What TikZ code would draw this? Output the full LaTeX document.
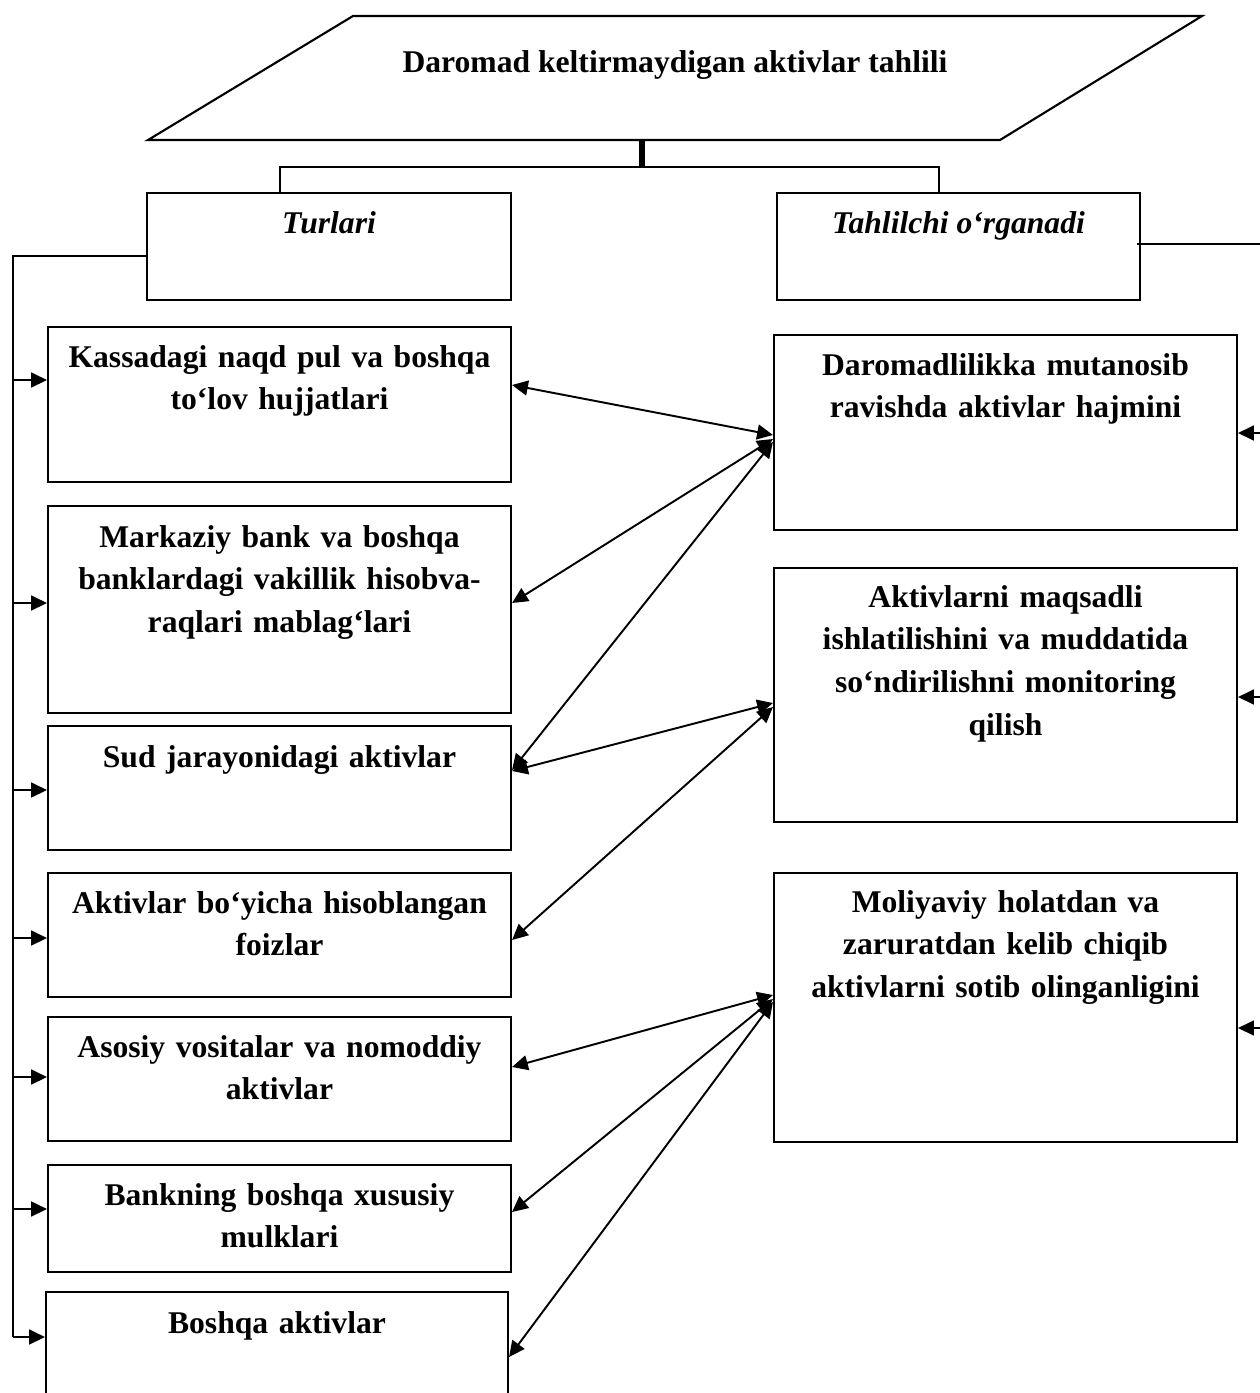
\documentclass[tikz,border=0pt]{standalone}
\usepackage{fontspec}
\setmainfont{Liberation Serif}
\usetikzlibrary{arrows.meta,fit}
% rectangle node spanning two corners: name, x1, y1, x2, y2
\newcommand\rectnode[5]{\node[box, fit={(#2,#3) (#4,#5)}] (#1) {};}
\tikzset{
  box/.style={draw, line width=1.2pt, inner sep=0pt},
  conn/.style={line width=1.1pt},
  txt/.style={font=\bfseries\fontsize{18}{24.4}\selectfont, align=center,
              inner sep=0pt, text width=8.8cm, anchor=base},
  head/.style={font=\bfseries\itshape\fontsize{18}{22}\selectfont, inner sep=0pt, anchor=base},
}
\begin{document}
\begin{tikzpicture}[x=0.02cm, y=-0.02cm, >={Triangle[length=9pt,width=8.5pt]}]
\useasboundingbox (0,0) rectangle (1259,1393);

% title parallelogram
\draw[line width=1.2pt] (148,140) -- (353,16) -- (1202,16) -- (1000,140) -- cycle;
\node[font=\bfseries\fontsize{18}{22}\selectfont, inner sep=0pt, anchor=base]
  (title) at (675,72) {Daromad keltirmaydigan aktivlar tahlili};
\coordinate (tbot) at (642,140);
\coordinate (split) at (642,167);

% boxes
\rectnode{tur}{147}{193}{511}{300}
\rectnode{tah}{777}{193}{1140}{300}
\rectnode{k1}{48}{327}{511}{482}
\rectnode{k2}{48}{506}{511}{713}
\rectnode{k3}{48}{726}{511}{850}
\rectnode{k4}{48}{873}{511}{997}
\rectnode{k5}{48}{1017}{511}{1141}
\rectnode{k6}{48}{1165}{511}{1272}
\rectnode{k7}{46}{1292}{508}{1420}
\rectnode{r1}{774}{335}{1237}{530}
\rectnode{r2}{774}{568}{1237}{822}
\rectnode{r3}{774}{873}{1237}{1142}

% headings
\node[head] at (tur.center |- 0,233) {Turlari};
\node[head] at (tah.center |- 0,233) {Tahlilchi o‘rganadi};

% box texts
\node[txt] at (k1.center |- 0,367) {Kassadagi naqd pul va boshqa\\to‘lov hujjatlari};
\node[txt] at (k2.center |- 0,547) {Markaziy bank va boshqa\\banklardagi vakillik hisobva-\\raqlari mablag‘lari};
\node[txt] at (k3.center |- 0,767) {Sud jarayonidagi aktivlar};
\node[txt] at (k4.center |- 0,913) {Aktivlar bo‘yicha hisoblangan\\foizlar};
\node[txt] at (k5.center |- 0,1057) {Asosiy vositalar va nomoddiy\\aktivlar};
\node[txt] at (k6.center |- 0,1205) {Bankning boshqa xususiy\\mulklari};
\node[txt] at (k7.center |- 0,1333) {Boshqa aktivlar};
\node[txt] at (r1.center |- 0,375) {Daromadlilikka mutanosib\\ravishda aktivlar hajmini};
\node[txt] at (r2.center |- 0,607) {Aktivlarni maqsadli\\ishlatilishini va muddatida\\so‘ndirilishni monitoring\\qilish};
\node[txt] at (r3.center |- 0,912) {Moliyaviy holatdan va\\zaruratdan kelib chiqib\\aktivlarni sotib olinganligini};

% title to the two headings
\draw[line width=3pt] (tbot) -- (split);
\draw[conn] (tur.north -| 280,0) -- (280,167) -- (939,167) -- (tah.north -| 939,0);

% left bus
\coordinate (bus) at (13,256);
\coordinate (busend) at (13,1337);
\draw[conn] (tur.west |- bus) -- (bus) -- (busend);
\draw[conn,->] (busend) -- (k7.west |- busend);
\draw[conn,->] (bus |- 0,380) -- (k1.west |- 0,380);
\draw[conn,->] (bus |- 0,603) -- (k2.west |- 0,603);
\draw[conn,->] (bus |- 0,790) -- (k3.west |- 0,790);
\draw[conn,->] (bus |- 0,938) -- (k4.west |- 0,938);
\draw[conn,->] (bus |- 0,1077) -- (k5.west |- 0,1077);
\draw[conn,->] (bus |- 0,1209) -- (k6.west |- 0,1209);

% right bus
\coordinate (rbus) at (1290,244);
\draw[conn] (1137,244) -- (rbus) -- (1290,1100);
\draw[conn,->] (rbus |- 0,433) -- (r1.east |- 0,433);
\draw[conn,->] (rbus |- 0,697) -- (r2.east |- 0,697);
\draw[conn,->] (rbus |- 0,1028) -- (r3.east |- 0,1028);

% links between types and analyst tasks
\draw[conn,<->] (k1.east |- 0,385) -- (r1.west |- 0,435);
\draw[conn,<->] (k2.east |- 0,603) -- (r1.west |- 0,439);
\draw[conn,<->] (k3.east |- 0,770) -- (r1.west |- 0,442);
\draw[conn,<->] (k3.east |- 0,771) -- (r2.west |- 0,703);
\draw[conn,<->] (k4.east |- 0,940) -- (r2.west |- 0,707);
\draw[conn,<->] (k5.east |- 0,1067) -- (r3.west |- 0,995);
\draw[conn,<->] (k6.east |- 0,1212) -- (r3.west |- 0,999);
\draw[conn,<->] (k7.east |- 0,1357) -- (r3.west |- 0,1002);
\end{tikzpicture}
\end{document}
